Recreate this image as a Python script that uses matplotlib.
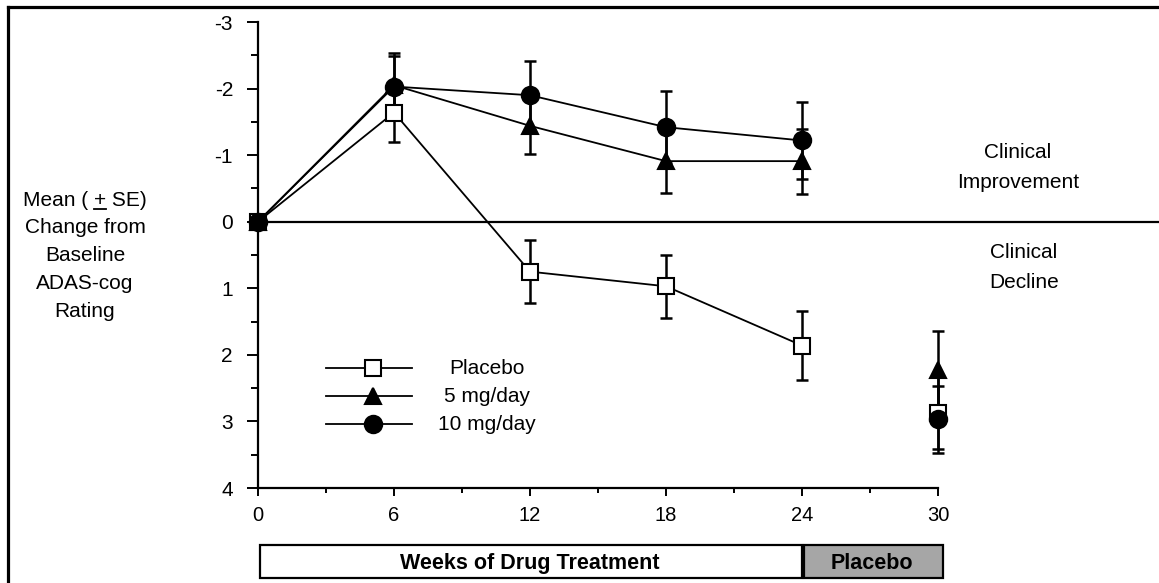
import matplotlib
matplotlib.use("Agg")
import matplotlib.pyplot as plt
import matplotlib.transforms as mtransforms
from matplotlib.lines import Line2D
from matplotlib.patches import Rectangle

plt.rcParams['font.family'] = ['Liberation Sans', 'DejaVu Sans']

# ADAS-cog change from baseline (negative = improvement)
weeks = [0, 6, 12, 18, 24, 30]
placebo_mean = [0, -1.64, 0.75, 0.97, 1.86, 2.87]
placebo_se = [0, 0.45, 0.47, 0.47, 0.52, 0.55]
mg5_mean = [0, -2.05, -1.44, -0.91, -0.91, 2.22]
mg5_se = [0, 0.49, 0.43, 0.48, 0.49, 0.58]
mg10_mean = [0, -2.03, -1.90, -1.42, -1.22, 2.97]
mg10_se = [0, 0.46, 0.52, 0.54, 0.58, 0.50]

series = [
    ("Placebo", placebo_mean, placebo_se, dict(marker='s', markerfacecolor='white', markersize=12)),
    ("5 mg/day", mg5_mean, mg5_se, dict(marker='^', markerfacecolor='black', markersize=11)),
    ("10 mg/day", mg10_mean, mg10_se, dict(marker='o', markerfacecolor='black', markersize=12.5)),
]

treatment_span = (0, 24)
washout_span = (24, 30)

fig = plt.figure(figsize=(11.59, 5.83), dpi=100)
ax = fig.add_axes([258 / 1159, 1 - 488 / 583, 680 / 1159, 466 / 583])

for name, mean, se, style in series:
    # weeks 0-24 joined, week 30 (placebo washout) shown on its own
    ax.errorbar(weeks[1:], mean[1:], yerr=se[1:], fmt='none', ecolor='black',
                elinewidth=1.8, capsize=4.5, capthick=1.8, clip_on=False, zorder=2)
    ax.plot(weeks[:5], mean[:5], color='black', linewidth=1.3,
            markeredgecolor='black', markeredgewidth=1.5, clip_on=False, zorder=3, **style)
    ax.plot(weeks[5:], mean[5:], linestyle='none', markeredgecolor='black',
            markeredgewidth=1.5, clip_on=False, zorder=3, **style)

ax.axhline(0, xmin=0, xmax=(1159 - 258) / 680, color='black', linewidth=1.6,
           clip_on=False, zorder=1)

ax.set_xlim(0, 30)
ax.set_ylim(4, -3)
ax.set_xticks(weeks)
ax.set_xticks([3, 9, 15, 21, 27], minor=True)
ax.set_yticks(range(-3, 5))
ax.set_yticks([-2.5, -1.5, -0.5, 0.5, 1.5, 2.5, 3.5], minor=True)
ax.set_yticklabels([str(v) for v in range(-3, 5)])
for side in ['top', 'right']:
    ax.spines[side].set_visible(False)
for side in ['left', 'bottom']:
    ax.spines[side].set_linewidth(1.6)
ax.tick_params(axis='y', which='major', length=8, width=1.4, pad=10, labelsize=15)
ax.tick_params(axis='y', which='minor', length=5, width=1.4)
ax.tick_params(axis='x', which='major', length=6, width=1.4, pad=7, labelsize=14.5)
ax.tick_params(axis='x', which='minor', length=3.5, width=1.4)

# legend drawn by hand inside the axes
legend_y = [0.2575, 0.197, 0.137]
for (name, mean, se, style), ly in zip(series, legend_y):
    ax.plot([0.1, 0.2265], [ly, ly], color='black', linewidth=1.3,
            transform=ax.transAxes, clip_on=False)
    ax.plot([0.169], [ly], transform=ax.transAxes, linestyle='none',
            markeredgecolor='black', markeredgewidth=1.5, clip_on=False, **style)
    ax.text(0.337, ly, name, transform=ax.transAxes, ha='center', va='center', fontsize=15)

# y-axis caption on the left
ylabel_x = 85 / 1159
ylabel_lines = ["Mean ( + SE)", "Change from", "Baseline", "ADAS-cog", "Rating"]
for i, line in enumerate(ylabel_lines):
    fig.text(ylabel_x, 1 - (200 + 27.8 * i) / 583, line, ha='center', va='center', fontsize=15)

# underline beneath the plus sign (reads as +/-), placed from measured text widths
renderer = fig.canvas.get_renderer()
probe = fig.text(0, 0, ylabel_lines[0], fontsize=15)
full_w = probe.get_window_extent(renderer).width
probe.set_text("Mean ( +")
upto_plus = probe.get_window_extent(renderer).width
probe.set_text("+")
plus_w = probe.get_window_extent(renderer).width
probe.remove()
left_px = ylabel_x * 1159 - full_w / 2
u0 = (left_px + upto_plus - plus_w) / 1159
u1 = (left_px + upto_plus) / 1159
fig.add_artist(Line2D([u0, u1], [1 - 209 / 583, 1 - 209 / 583], color='black', linewidth=1.3))

fig.text(1018 / 1159, 1 - 152 / 583, "Clinical", ha='center', va='center', fontsize=15)
fig.text(1018 / 1159, 1 - 183 / 583, "Improvement", ha='center', va='center', fontsize=15)
fig.text(1024 / 1159, 1 - 252 / 583, "Clinical", ha='center', va='center', fontsize=15)
fig.text(1024 / 1159, 1 - 283 / 583, "Decline", ha='center', va='center', fontsize=15)

# treatment phase bar under the x axis
trans = mtransforms.blended_transform_factory(ax.transData, fig.transFigure)
bar_y0, bar_y1 = 1 - 578 / 583, 1 - 545 / 583
for (x0, x1), label, color in [(treatment_span, "Weeks of Drug Treatment", 'white'),
                               (washout_span, "Placebo", '#a6a6a6')]:
    x1_edge = x1 + 0.2 if x1 == 30 else x1
    fig.add_artist(Rectangle((x0 + 0.1, bar_y0), x1_edge - x0 - 0.1, bar_y1 - bar_y0,
                             transform=trans, facecolor=color, edgecolor='black',
                             linewidth=1.6, clip_on=False))
    fig.text((x0 + x1_edge) / 2, (bar_y0 + bar_y1) / 2 - 0.003, label, transform=trans,
             ha='center', va='center', fontsize=15.5, fontweight='bold')

# frame lines along the top and left edge
fig.add_artist(Line2D([8 / 1159, 1], [1 - 6.5 / 583, 1 - 6.5 / 583], color='black', linewidth=2.3))
fig.add_artist(Line2D([8 / 1159, 8 / 1159], [0, 1 - 6.5 / 583], color='black', linewidth=2.3))

fig.savefig("out.png", dpi=100)
